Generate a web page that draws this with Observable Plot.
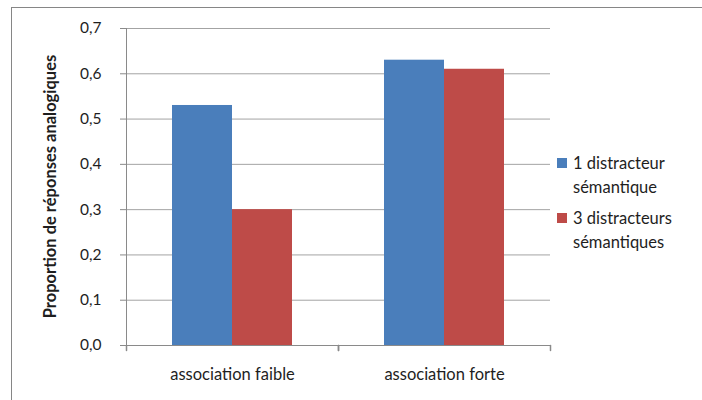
<!DOCTYPE html>
<html>
<head>
<meta charset="utf-8">
<script src="https://cdn.jsdelivr.net/npm/d3@7"></script>
<script src="https://cdn.jsdelivr.net/npm/@observablehq/plot@0.6"></script>
<style>
  html, body { margin: 0; padding: 0; background: #fff; }
  #wrap { position: relative; width: 702px; height: 400px; overflow: hidden; background: #fff; font-family: Lato, "Open Sans", sans-serif; }
  #border { position: absolute; left: 11px; top: 7px; width: 800px; height: 500px; border: 1px solid #868686; box-sizing: border-box; }
  #chart { position: absolute; left: 0; top: 0; }
  #legend { position: absolute; left: 557px; top: 151px; font-size: 16.5px; color: #1e1e1e; }
  .item { display: flex; align-items: flex-start; line-height: 24px; }
  .item + .item { margin-top: 7px; }
  .sw { width: 10px; height: 10px; margin-top: 7px; margin-right: 6px; flex: none; }
</style>
</head>
<body>
<div id="wrap">
  <div id="border"></div>
  <div id="chart"></div>
  <div id="legend"></div>
</div>
<script>
const categories = ["association faible", "association forte"];
const series = ["1 distracteur sémantique", "3 distracteurs sémantiques"];
const seriesLines = [["1 distracteur", "sémantique"], ["3 distracteurs", "sémantiques"]];
const values1 = [0.53, 0.63];
const values3 = [0.30, 0.61];
const yTicks = [0, 0.1, 0.2, 0.3, 0.4, 0.5, 0.6, 0.7];
const colors = ["#4a7ebb", "#be4b48"];
const yTitle = "Proportion de réponses analogiques";

const rows = categories.flatMap((c, i) => [
  {cat: c, series: series[0], value: values1[i]},
  {cat: c, series: series[1], value: values3[i]}
]);

const tickShape = {draw(ctx, l) { ctx.moveTo(0, 0); ctx.lineTo(0, l); }};

const plot = Plot.plot({
  width: 702,
  height: 400,
  marginLeft: 125,
  marginRight: 152,
  marginTop: 28,
  marginBottom: 55,
  style: {fontFamily: "Lato, 'Open Sans', sans-serif", fontSize: "15px", color: "#1e1e1e", background: "transparent"},
  fx: {domain: categories, padding: 0, label: null},
  x: {domain: series, paddingInner: 0, paddingOuter: 0.75, axis: null},
  y: {domain: [0, 0.7], label: null},
  color: {domain: series, range: colors},
  marks: [
    Plot.ruleY(yTicks.slice(1), {stroke: "#a3a3a3", strokeWidth: 1}),
    Plot.barY(rows, {fx: "cat", x: "series", y: "value", fill: "series"}),
    Plot.ruleY([0], {stroke: "#8a8a8a"}),
    Plot.frame({anchor: "left", fx: [categories[0]], stroke: "#8a8a8a", insetBottom: -5}),
    Plot.vector([0], {frameAnchor: "bottom-left", length: 5, anchor: "start", shape: tickShape, stroke: "#8a8a8a"}),
    Plot.vector([0], {frameAnchor: "bottom-right", length: 5, anchor: "start", shape: tickShape, stroke: "#8a8a8a"}),
    Plot.axisY({ticks: yTicks, tickFormat: d => d.toFixed(1).replace(".", ","), tickSize: 6, tickPadding: 19, stroke: "#8a8a8a", label: null, fontSize: 15.5}),
    Plot.axisFx({anchor: "bottom", tickSize: 0, tickPadding: 23, label: null, fontSize: 16.5})
  ]
});
document.getElementById("chart").appendChild(plot);

// rotated y title
const svg = d3.select(plot);
svg.append("text")
  .attr("transform", `translate(52, ${(28 + 345) / 2}) rotate(-90)`)
  .attr("text-anchor", "middle")
  .attr("dominant-baseline", "middle")
  .attr("font-weight", "bold")
  .attr("font-size", 16.5)
  .attr("fill", "#1e1e1e")
  .text(yTitle);

const legend = d3.select("#legend");
series.forEach((s, i) => {
  const it = legend.append("div").attr("class", "item");
  it.append("div").attr("class", "sw").style("background", colors[i]);
  it.append("div").html(seriesLines[i].join("<br>"));
});
</script>
</body>
</html>
